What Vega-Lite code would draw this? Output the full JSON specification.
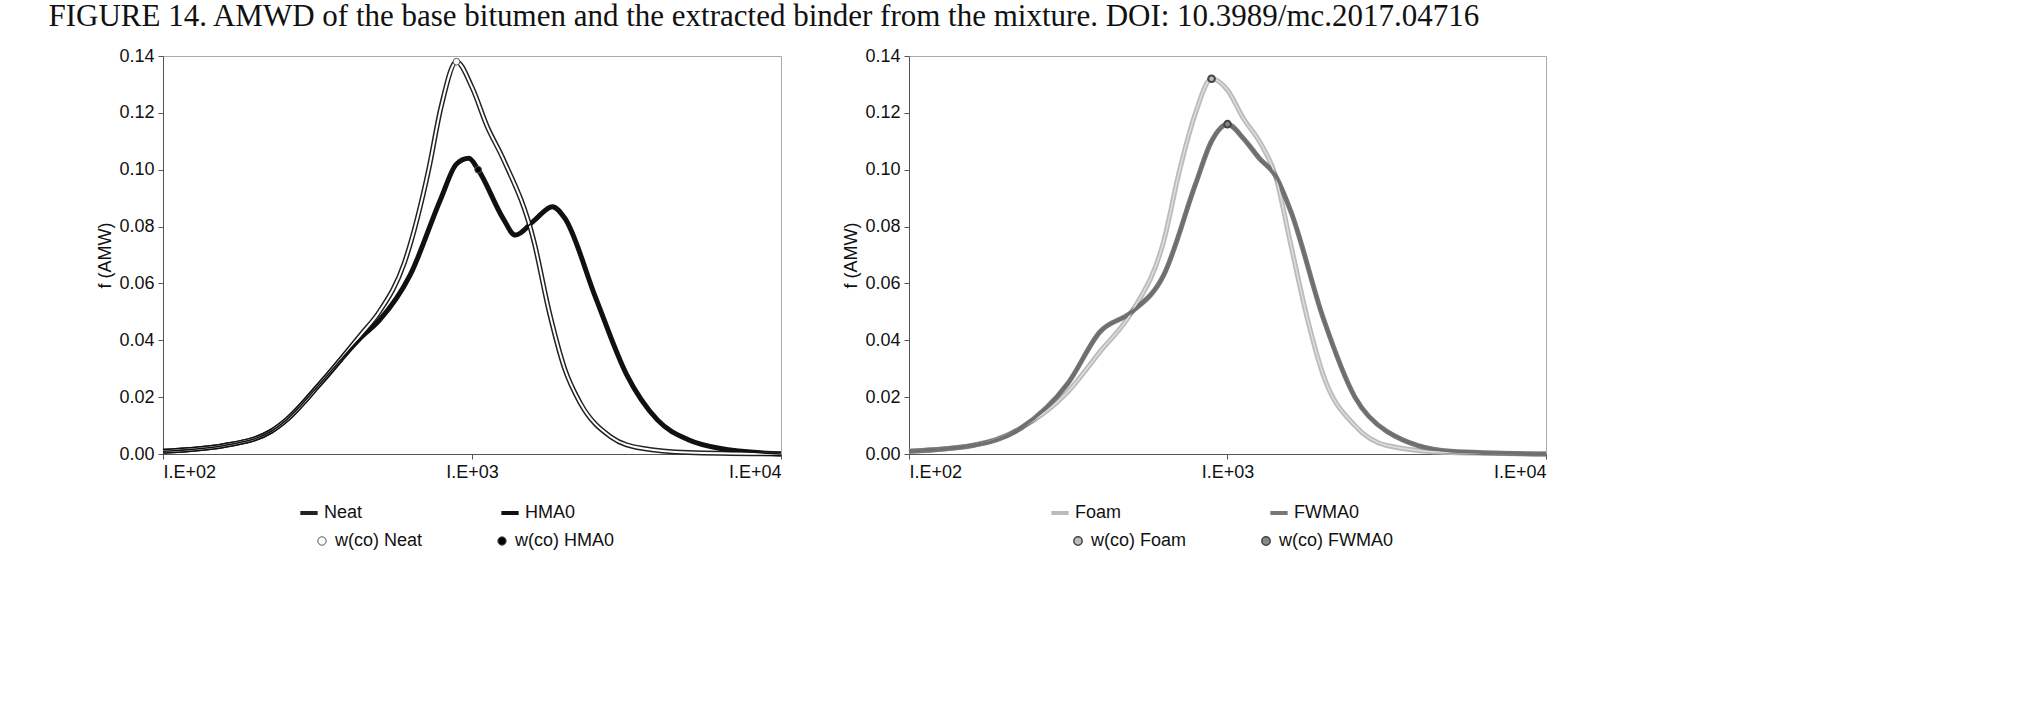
{
  "$schema": "https://vega.github.io/schema/vega-lite/v6.json",
  "padding": {"left": 48, "top": 0, "right": 10, "bottom": 0},
  "title": {"text": "FIGURE 14.    AMWD of the base bitumen and the extracted binder from the mixture. DOI: 10.3989/mc.2017.04716", "font": "Liberation Serif", "fontSize": 31, "fontWeight": "normal", "color": "#111", "anchor": "start", "offset": 14, "dx": -48},
  "datasets": {
    "left": [
      {"amw": 100, "f": 0.001, "s": "Neat"}, {"amw": 158, "f": 0.003, "s": "Neat"}, {"amw": 224, "f": 0.008, "s": "Neat"}, {"amw": 251, "f": 0.012, "s": "Neat"}, {"amw": 324, "f": 0.025, "s": "Neat"}, {"amw": 437, "f": 0.042, "s": "Neat"}, {"amw": 501, "f": 0.05, "s": "Neat"}, {"amw": 603, "f": 0.067, "s": "Neat"}, {"amw": 724, "f": 0.1, "s": "Neat"}, {"amw": 794, "f": 0.122, "s": "Neat"}, {"amw": 891, "f": 0.138, "s": "Neat"}, {"amw": 1000, "f": 0.129, "s": "Neat"}, {"amw": 1122, "f": 0.115, "s": "Neat"}, {"amw": 1259, "f": 0.104, "s": "Neat"}, {"amw": 1585, "f": 0.075, "s": "Neat"}, {"amw": 1778, "f": 0.05, "s": "Neat"}, {"amw": 1995, "f": 0.03, "s": "Neat"}, {"amw": 2239, "f": 0.018, "s": "Neat"}, {"amw": 2818, "f": 0.006, "s": "Neat"}, {"amw": 3548, "f": 0.002, "s": "Neat"}, {"amw": 5012, "f": 0.0005, "s": "Neat"}, {"amw": 10000, "f": 0.0, "s": "Neat"},
      {"amw": 100, "f": 0.001, "s": "HMA0"}, {"amw": 158, "f": 0.003, "s": "HMA0"}, {"amw": 224, "f": 0.008, "s": "HMA0"}, {"amw": 251, "f": 0.012, "s": "HMA0"}, {"amw": 324, "f": 0.025, "s": "HMA0"}, {"amw": 437, "f": 0.041, "s": "HMA0"}, {"amw": 501, "f": 0.047, "s": "HMA0"}, {"amw": 631, "f": 0.063, "s": "HMA0"}, {"amw": 794, "f": 0.09, "s": "HMA0"}, {"amw": 891, "f": 0.102, "s": "HMA0"}, {"amw": 977, "f": 0.104, "s": "HMA0"}, {"amw": 1047, "f": 0.1, "s": "HMA0"}, {"amw": 1259, "f": 0.083, "s": "HMA0"}, {"amw": 1380, "f": 0.077, "s": "HMA0"}, {"amw": 1585, "f": 0.082, "s": "HMA0"}, {"amw": 1820, "f": 0.087, "s": "HMA0"}, {"amw": 1995, "f": 0.083, "s": "HMA0"}, {"amw": 2512, "f": 0.055, "s": "HMA0"}, {"amw": 3162, "f": 0.028, "s": "HMA0"}, {"amw": 3981, "f": 0.012, "s": "HMA0"}, {"amw": 5012, "f": 0.005, "s": "HMA0"}, {"amw": 6310, "f": 0.002, "s": "HMA0"}, {"amw": 10000, "f": 0.0, "s": "HMA0"}
    ],
    "leftPts": [
      {"amw": 891, "f": 0.138, "p": "w(co) Neat"},
      {"amw": 1047, "f": 0.1, "p": "w(co) HMA0"}
    ],
    "right": [
      {"amw": 100, "f": 0.001, "s": "Foam"}, {"amw": 158, "f": 0.003, "s": "Foam"}, {"amw": 224, "f": 0.009, "s": "Foam"}, {"amw": 316, "f": 0.022, "s": "Foam"}, {"amw": 398, "f": 0.036, "s": "Foam"}, {"amw": 501, "f": 0.05, "s": "Foam"}, {"amw": 631, "f": 0.075, "s": "Foam"}, {"amw": 708, "f": 0.1, "s": "Foam"}, {"amw": 794, "f": 0.12, "s": "Foam"}, {"amw": 891, "f": 0.132, "s": "Foam"}, {"amw": 1000, "f": 0.128, "s": "Foam"}, {"amw": 1122, "f": 0.118, "s": "Foam"}, {"amw": 1259, "f": 0.11, "s": "Foam"}, {"amw": 1413, "f": 0.098, "s": "Foam"}, {"amw": 1585, "f": 0.073, "s": "Foam"}, {"amw": 1778, "f": 0.048, "s": "Foam"}, {"amw": 1995, "f": 0.028, "s": "Foam"}, {"amw": 2512, "f": 0.01, "s": "Foam"}, {"amw": 3162, "f": 0.003, "s": "Foam"}, {"amw": 5012, "f": 0.0005, "s": "Foam"}, {"amw": 10000, "f": 0.0, "s": "Foam"},
      {"amw": 100, "f": 0.001, "s": "FWMA0"}, {"amw": 158, "f": 0.003, "s": "FWMA0"}, {"amw": 224, "f": 0.009, "s": "FWMA0"}, {"amw": 316, "f": 0.025, "s": "FWMA0"}, {"amw": 398, "f": 0.043, "s": "FWMA0"}, {"amw": 501, "f": 0.05, "s": "FWMA0"}, {"amw": 631, "f": 0.063, "s": "FWMA0"}, {"amw": 794, "f": 0.095, "s": "FWMA0"}, {"amw": 891, "f": 0.11, "s": "FWMA0"}, {"amw": 1000, "f": 0.116, "s": "FWMA0"}, {"amw": 1122, "f": 0.111, "s": "FWMA0"}, {"amw": 1259, "f": 0.104, "s": "FWMA0"}, {"amw": 1413, "f": 0.098, "s": "FWMA0"}, {"amw": 1585, "f": 0.085, "s": "FWMA0"}, {"amw": 1995, "f": 0.048, "s": "FWMA0"}, {"amw": 2512, "f": 0.02, "s": "FWMA0"}, {"amw": 3162, "f": 0.008, "s": "FWMA0"}, {"amw": 5012, "f": 0.001, "s": "FWMA0"}, {"amw": 10000, "f": 0.0, "s": "FWMA0"}
    ],
    "rightPts": [
      {"amw": 891, "f": 0.132, "p": "w(co) Foam"},
      {"amw": 1000, "f": 0.116, "p": "w(co) FWMA0"}
    ]
  },
  "hconcat": [
    {
      "width": 618, "height": 398,
      "layer": [
        {
          "data": {"name": "left"},
          "mark": {"type": "line", "interpolate": "monotone", "strokeWidth": 5},
          "encoding": {
            "x": {"field": "amw", "type": "quantitative", "scale": {"type": "log", "domain": [100, 10000], "nice": false}, "axis": {"values": [100, 1000, 10000], "labelExpr": "datum.value == 100 ? 'I.E+02' : datum.value == 1000 ? 'I.E+03' : 'I.E+04'", "title": null, "grid": false}},
            "y": {"field": "f", "type": "quantitative", "scale": {"domain": [0, 0.14], "nice": false}, "axis": {"values": [0, 0.02, 0.04, 0.06, 0.08, 0.1, 0.12, 0.14], "format": ".2f", "title": "f (AMW)", "grid": false}},
            "stroke": {"field": "s", "type": "nominal", "scale": {"domain": ["Neat", "HMA0"], "range": ["#222", "#111"]}, "legend": {"orient": "none", "legendX": 135, "legendY": 446, "direction": "horizontal", "columns": 2, "title": null, "symbolType": "stroke", "columnPadding": 130}}
          }
        },
        {
          "data": {"name": "left"},
          "transform": [{"filter": "datum.s == 'Neat'"}],
          "mark": {"type": "line", "interpolate": "monotone", "strokeWidth": 2, "color": "white"},
          "encoding": {"x": {"field": "amw", "type": "quantitative"}, "y": {"field": "f", "type": "quantitative"}}
        },
        {
          "data": {"name": "left"},
          "transform": [{"filter": "datum.s == 'HMA0'"}],
          "mark": {"type": "line", "interpolate": "monotone", "strokeWidth": 1.5, "color": "#111"},
          "encoding": {"x": {"field": "amw", "type": "quantitative"}, "y": {"field": "f", "type": "quantitative"}}
        },
        {
          "data": {"name": "leftPts"},
          "mark": {"type": "point", "filled": true, "size": 45, "stroke": "#555", "strokeWidth": 1, "opacity": 1},
          "encoding": {
            "x": {"field": "amw", "type": "quantitative"},
            "y": {"field": "f", "type": "quantitative"},
            "fill": {"field": "p", "type": "nominal", "scale": {"domain": ["w(co) Neat", "w(co) HMA0"], "range": ["white", "black"]}, "legend": {"orient": "none", "legendX": 150, "legendY": 476, "direction": "horizontal", "columns": 2, "title": null, "columnPadding": 70, "symbolSize": 70, "symbolStrokeWidth": 1}}
          }
        },
        {
          "mark": {"type": "text", "fontSize": 18, "align": "right", "dy": -14},
          "encoding": {"x": {"datum": 8600}, "y": {"datum": 0.0}, "text": {"value": "AMW"}}
        }
      ]
    },
    {
      "width": 637, "height": 398,
      "layer": [
        {
          "data": {"name": "right"},
          "mark": {"type": "line", "interpolate": "monotone", "strokeWidth": 5},
          "encoding": {
            "x": {"field": "amw", "type": "quantitative", "scale": {"type": "log", "domain": [100, 10000], "nice": false}, "axis": {"values": [100, 1000, 10000], "labelExpr": "datum.value == 100 ? 'I.E+02' : datum.value == 1000 ? 'I.E+03' : 'I.E+04'", "title": null, "grid": false}},
            "y": {"field": "f", "type": "quantitative", "scale": {"domain": [0, 0.14], "nice": false}, "axis": {"values": [0, 0.02, 0.04, 0.06, 0.08, 0.1, 0.12, 0.14], "format": ".2f", "title": "f (AMW)", "grid": false}},
            "stroke": {"field": "s", "type": "nominal", "scale": {"domain": ["Foam", "FWMA0"], "range": ["#bbb", "#777"]}, "legend": {"orient": "none", "legendX": 140, "legendY": 446, "direction": "horizontal", "columns": 2, "title": null, "symbolType": "stroke", "columnPadding": 140}}
          }
        },
        {
          "data": {"name": "right"},
          "transform": [{"filter": "datum.s == 'Foam'"}],
          "mark": {"type": "line", "interpolate": "monotone", "strokeWidth": 1.5, "color": "#ddd"},
          "encoding": {"x": {"field": "amw", "type": "quantitative"}, "y": {"field": "f", "type": "quantitative"}}
        },
        {
          "data": {"name": "right"},
          "transform": [{"filter": "datum.s == 'FWMA0'"}],
          "mark": {"type": "line", "interpolate": "monotone", "strokeWidth": 2.5, "color": "#6e6e6e"},
          "encoding": {"x": {"field": "amw", "type": "quantitative"}, "y": {"field": "f", "type": "quantitative"}}
        },
        {
          "data": {"name": "rightPts"},
          "mark": {"type": "point", "filled": true, "size": 45, "strokeWidth": 2, "opacity": 1},
          "encoding": {
            "x": {"field": "amw", "type": "quantitative"},
            "y": {"field": "f", "type": "quantitative"},
            "fill": {"field": "p", "type": "nominal", "scale": {"domain": ["w(co) Foam", "w(co) FWMA0"], "range": ["#bbb", "#888"]}, "legend": {"orient": "none", "legendX": 160, "legendY": 476, "direction": "horizontal", "columns": 2, "title": null, "columnPadding": 70, "symbolSize": 70, "symbolStrokeWidth": 1.5, "symbolStrokeColor": "#444"}},
            "stroke": {"value": "#444"}
          }
        },
        {
          "mark": {"type": "text", "fontSize": 18, "align": "right", "dy": -14},
          "encoding": {"x": {"datum": 8600}, "y": {"datum": 0.0}, "text": {"value": "AMW"}}
        }
      ]
    }
  ],
  "spacing": 50,
  "resolve": {"scale": {"stroke": "independent", "fill": "independent", "x": "independent", "y": "independent"}, "legend": {"stroke": "independent", "fill": "independent"}},
  "config": {
    "font": "Liberation Sans",
    "view": {"stroke": "#aaa"},
    "axis": {"labelFontSize": 18, "titleFontSize": 18, "titleFontWeight": "normal", "labelColor": "#111", "titleColor": "#111", "domainColor": "#555", "tickColor": "#555", "labelPadding": 4},
    "legend": {"labelFontSize": 18, "symbolSize": 300, "symbolStrokeWidth": 4, "labelColor": "#111", "rowPadding": 6}
  }
}
